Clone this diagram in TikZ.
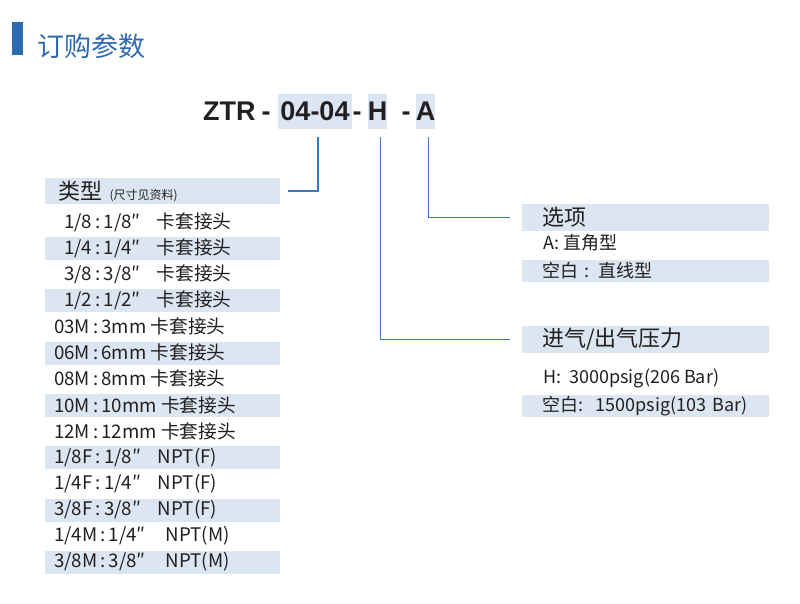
\documentclass[tikz,border=0pt]{standalone}
\usepackage{fontspec}
\setmainfont{Noto Sans CJK SC}
\newfontfamily\codefont{Liberation Sans}
\definecolor{bandfill}{HTML}{DCE6F2}
\definecolor{ttlblue}{HTML}{2F6BB3}
\definecolor{linblue}{HTML}{3A78C3}
\definecolor{ink}{HTML}{231F20}
\newcommand{\px}[1]{\fontsize{#1}{#1}\selectfont}
\tikzset{
  txt/.style={anchor=west, inner sep=0pt, text=ink, font=\px{18}},
  band/.style={fill=bandfill, anchor=west, inner sep=0pt, minimum width=235pt, minimum height=23pt},
  hdr/.style={fill=bandfill, anchor=west, inner ysep=0pt, text=ink, align=left},
  codebox/.style={fill=bandfill, inner sep=0pt, minimum height=35pt, text=ink, font=\codefont\bfseries\px{27}},
  sepmark/.style={anchor=base, inner sep=0pt, text=ink, font=\codefont\bfseries\px{27}},
  conn/.style={draw=linblue, line width=1.2pt}
}
\begin{document}
\begin{tikzpicture}[x=1pt, y=-1pt]
	\useasboundingbox (0,0) rectangle (800,604);
	\node[fill=ttlblue, minimum width=11pt, minimum height=33pt, inner sep=0pt, anchor=north west] (bar) at (12,22) {};
	\node[anchor=west, inner sep=0pt, text=ttlblue, font=\px{27}] (title) at (37,46) {订购参数};

	\node[sepmark, anchor=base west] (ztr) at (203,121) {ZTR};
	\node[sepmark] (d1) at (266,121) {-};
	\node[codebox, minimum width=74pt] (code) at (315,111.5) {04-04};
	\node[sepmark] (d2) at (357,121) {-};
	\node[codebox, minimum width=19pt] (hbox) at (377.5,111.5) {H};
	\node[sepmark] (d3) at (406,121) {-};
	\node[codebox, minimum width=19pt] (abox) at (425.5,111.5) {A};

	\node[hdr, text width=209pt, inner xsep=13pt, minimum height=26pt, font=\px{22}] (typehdr) at (45,191) {类型 {\px{12}(尺寸见资料)}};
	\foreach \t [count=\i, evaluate=\i as \ry using {222+(\i-1)*26.15}, evaluate=\i as \rx using {\i<5?64:54}] in
	  {{1/8\,:\,1/8″\hspace{16pt}卡套接头}, {1/4\,:\,1/4″\hspace{16pt}卡套接头}, {3/8\,:\,3/8″\hspace{16pt}卡套接头}, {1/2\,:\,1/2″\hspace{16pt}卡套接头},
	   {03M\,:\,3mm 卡套接头}, {06M\,:\,6mm 卡套接头}, {08M\,:\,8mm 卡套接头}, {10M\,:\,10mm 卡套接头}, {12M\,:\,12mm 卡套接头},
	   {1/8F\,:\,1/8″\hspace{17pt}NPT(F)}, {1/4F\,:\,1/4″\hspace{17pt}NPT(F)}, {3/8F\,:\,3/8″\hspace{17pt}NPT(F)},
	   {1/4M\,:\,1/4″\hspace{20pt}NPT(M)}, {3/8M\,:\,3/8″\hspace{20pt}NPT(M)}}{
	  \ifodd\i\else\node[band] (band\i) at (45,\ry+0.5) {};\fi
	  \node[txt, font=\px{18.7}] (row\i) at (\rx,\ry) {\t};
	}

	\node[hdr, text width=207pt, inner xsep=20pt, minimum height=27pt, font=\px{22}] (opthdr) at (522,217.5) {选项};
	\node[txt] (opta) at (543,243) {A: 直角型};
	\node[hdr, text width=206pt, inner xsep=20.5pt, minimum height=22pt, font=\px{18}] (optb) at (522,271) {空白 : 直线型};

	\node[hdr, text width=207pt, inner xsep=20pt, minimum height=27pt, font=\px{22}] (prshdr) at (522,339.5) {进气/出气压力};
	\node[txt] (prsh) at (543,378) {H:\ \ 3000psig(206 Bar)};
	\node[hdr, text width=206pt, inner xsep=20.5pt, minimum height=22pt, font=\px{18}] (prsb) at (522,406) {空白:\ \ 1500psig(103 Bar)};

	\draw[conn, shorten <=8pt, shorten >=8pt] ([xshift=3pt]code.south) |- (typehdr.east);
	\draw[conn, shorten <=8pt, shorten >=12pt] ([xshift=3pt]hbox.south) |- (prshdr.west);
	\draw[conn, shorten <=8pt, shorten >=12pt] ([xshift=3pt]abox.south) |- (opthdr.west);
\end{tikzpicture}
\end{document}
